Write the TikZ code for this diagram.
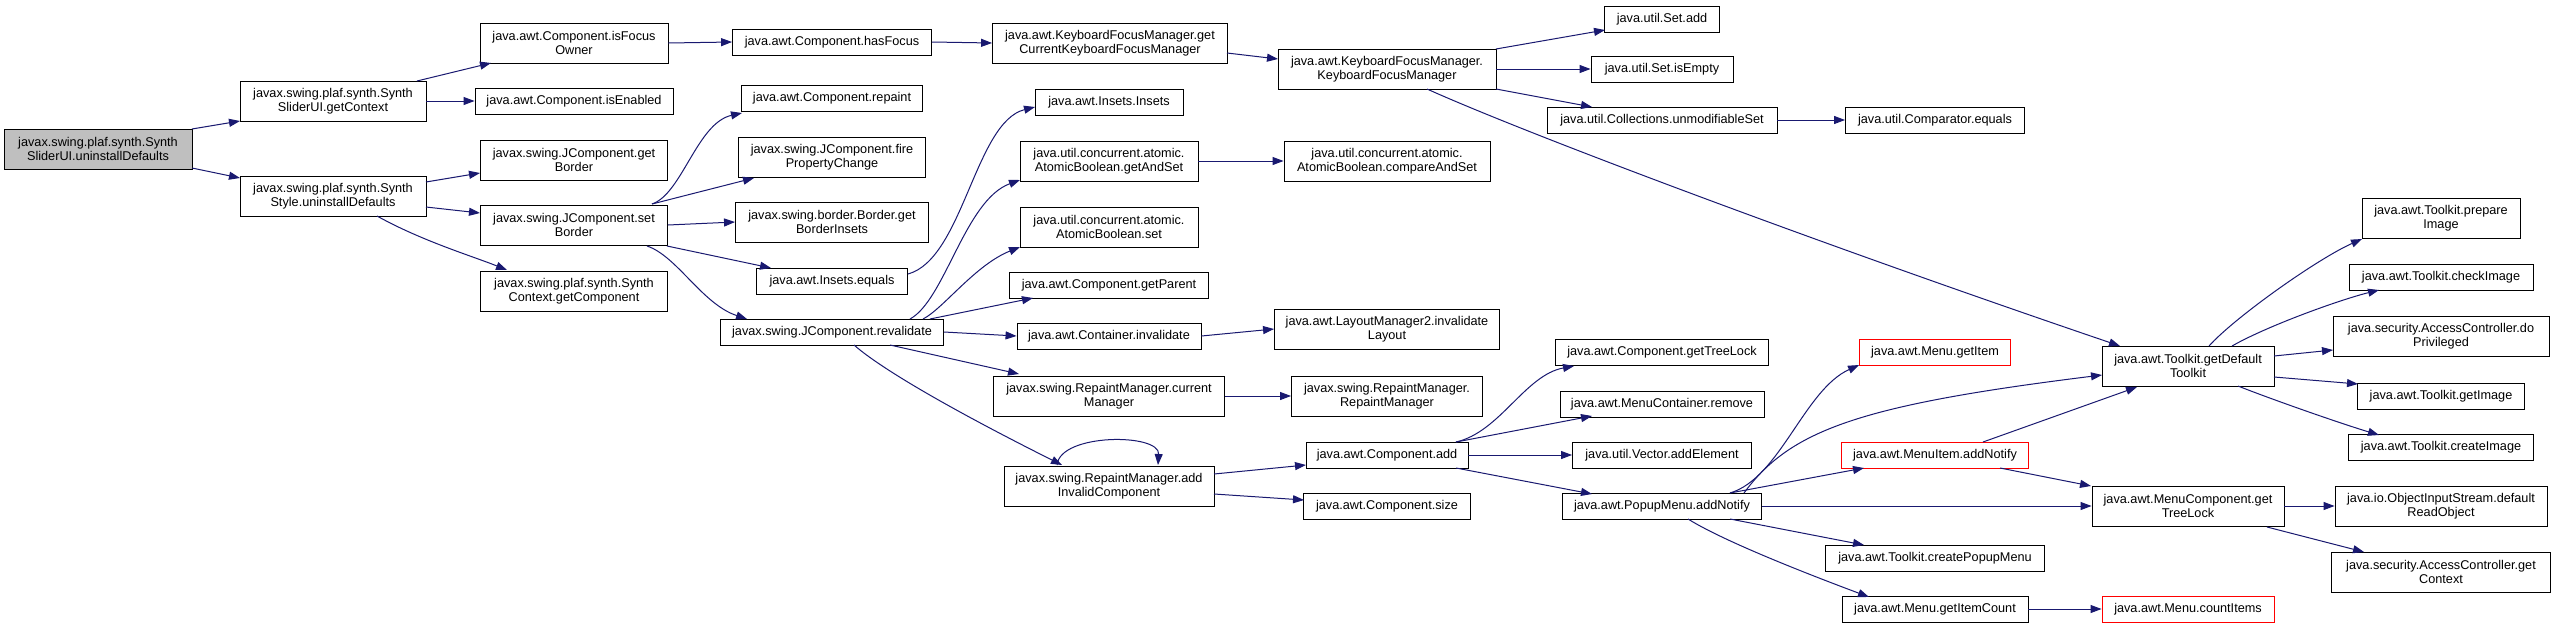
\documentclass[tikz,border=0pt]{standalone}
\usepackage{fontspec}
\setmainfont{Liberation Sans}
\usetikzlibrary{arrows.meta,calc}
\definecolor{edgec}{HTML}{191970}
\definecolor{rootfill}{HTML}{BFBFBF}
\begin{document}
\begin{tikzpicture}[x=1pt,y=-1pt,
 box/.style={draw=black,line width=0.9pt,fill=white,inner sep=0pt,align=center,font=\fontsize{12.7pt}{14pt}\selectfont},
 redbox/.style={box,draw=red},
 e/.style={draw=edgec,line width=1pt,-{Triangle[length=11pt,width=8pt]}}]
\fill[white] (0,0) rectangle (2556,624);
\useasboundingbox (0,0) rectangle (2556,624);
% column 0
\node[box,fill=rootfill,minimum width=188pt,minimum height=40pt] (root) at (98,149) {javax.swing.plaf.synth.Synth\\SliderUI.uninstallDefaults};
% column 1
\node[box,minimum width=186pt,minimum height=40pt] (gc) at (333,101) {javax.swing.plaf.synth.Synth\\SliderUI.getContext};
\node[box,minimum width=186pt,minimum height=40pt] (sud) at (333,196) {javax.swing.plaf.synth.Synth\\Style.uninstallDefaults};
% column 2
\node[box,minimum width=188pt,minimum height=40pt] (ifo) at (574,43) {java.awt.Component.isFocus\\Owner};
\node[box,minimum width=198pt,minimum height=26pt] (ien) at (574,101) {java.awt.Component.isEnabled};
\node[box,minimum width=187pt,minimum height=40pt] (gb) at (574,160) {javax.swing.JComponent.get\\Border};
\node[box,minimum width=187pt,minimum height=40pt] (sb) at (574,225) {javax.swing.JComponent.set\\Border};
\node[box,minimum width=187pt,minimum height=40pt] (cgc) at (574,291) {javax.swing.plaf.synth.Synth\\Context.getComponent};
% column 3
\node[box,minimum width=199pt,minimum height=26pt] (hf) at (832,42) {java.awt.Component.hasFocus};
\node[box,minimum width=181pt,minimum height=26pt] (rp) at (832,98) {java.awt.Component.repaint};
\node[box,minimum width=187pt,minimum height=40pt] (fpc) at (832,157) {javax.swing.JComponent.fire\\PropertyChange};
\node[box,minimum width=193pt,minimum height=40pt] (gbi) at (832,222) {javax.swing.border.Border.get\\BorderInsets};
\node[box,minimum width=151pt,minimum height=26pt] (ieq) at (832,281) {java.awt.Insets.equals};
\node[box,minimum width=223pt,minimum height=26pt] (rv) at (832,332) {javax.swing.JComponent.revalidate};
% column 4
\node[box,minimum width=235pt,minimum height=40pt] (gckfm) at (1110,43) {java.awt.KeyboardFocusManager.get\\CurrentKeyboardFocusManager};
\node[box,minimum width=148pt,minimum height=26pt] (ii) at (1109,102) {java.awt.Insets.Insets};
\node[box,minimum width=178pt,minimum height=40pt] (gas) at (1109,161) {java.util.concurrent.atomic.\\AtomicBoolean.getAndSet};
\node[box,minimum width=178pt,minimum height=40pt] (abs) at (1109,227) {java.util.concurrent.atomic.\\AtomicBoolean.set};
\node[box,minimum width=199pt,minimum height=26pt] (gp) at (1109,285) {java.awt.Component.getParent};
\node[box,minimum width=184pt,minimum height=26pt] (ci) at (1109,336) {java.awt.Container.invalidate};
\node[box,minimum width=231pt,minimum height=40pt] (cm) at (1109,396) {javax.swing.RepaintManager.current\\Manager};
\node[box,minimum width=210pt,minimum height=40pt] (aic) at (1109,486) {javax.swing.RepaintManager.add\\InvalidComponent};
% column 5
\node[box,minimum width=218pt,minimum height=40pt] (kfm) at (1387,69) {java.awt.KeyboardFocusManager.\\KeyboardFocusManager};
\node[box,minimum width=206pt,minimum height=40pt] (cas) at (1387,161) {java.util.concurrent.atomic.\\AtomicBoolean.compareAndSet};
\node[box,minimum width=225pt,minimum height=40pt] (lm) at (1387,329) {java.awt.LayoutManager2.invalidate\\Layout};
\node[box,minimum width=191pt,minimum height=40pt] (rmrm) at (1387,396) {javax.swing.RepaintManager.\\RepaintManager};
\node[box,minimum width=162pt,minimum height=26pt] (cadd) at (1387,455) {java.awt.Component.add};
\node[box,minimum width=167pt,minimum height=26pt] (csz) at (1387,506) {java.awt.Component.size};
% column 6
\node[box,minimum width=115pt,minimum height=26pt] (sadd) at (1662,19) {java.util.Set.add};
\node[box,minimum width=142pt,minimum height=26pt] (sie) at (1662,69) {java.util.Set.isEmpty};
\node[box,minimum width=230pt,minimum height=26pt] (ums) at (1662,120) {java.util.Collections.unmodifiableSet};
\node[box,minimum width=213pt,minimum height=26pt] (gtl) at (1662,352) {java.awt.Component.getTreeLock};
\node[box,minimum width=204pt,minimum height=26pt] (mcr) at (1662,404) {java.awt.MenuContainer.remove};
\node[box,minimum width=179pt,minimum height=26pt] (vae) at (1662,455) {java.util.Vector.addElement};
\node[box,minimum width=199pt,minimum height=26pt] (pan) at (1662,506) {java.awt.PopupMenu.addNotify};
% column 7
\node[box,minimum width=179pt,minimum height=26pt] (ceq) at (1935,120) {java.util.Comparator.equals};
\node[redbox,minimum width=151pt,minimum height=26pt] (mgi) at (1935,352) {java.awt.Menu.getItem};
\node[redbox,minimum width=187pt,minimum height=26pt] (man) at (1935,455) {java.awt.MenuItem.addNotify};
\node[box,minimum width=219pt,minimum height=26pt] (cpm) at (1935,558) {java.awt.Toolkit.createPopupMenu};
\node[box,minimum width=186pt,minimum height=26pt] (gic) at (1935,609) {java.awt.Menu.getItemCount};
% column 8
\node[box,minimum width=172pt,minimum height=40pt] (gdt) at (2188,366) {java.awt.Toolkit.getDefault\\Toolkit};
\node[box,minimum width=192pt,minimum height=40pt] (mcgtl) at (2188,506) {java.awt.MenuComponent.get\\TreeLock};
\node[redbox,minimum width=172pt,minimum height=26pt] (cit) at (2188,609) {java.awt.Menu.countItems};
% column 9
\node[box,minimum width=158pt,minimum height=40pt] (pi) at (2441,218) {java.awt.Toolkit.prepare\\Image};
\node[box,minimum width=184pt,minimum height=26pt] (cki) at (2441,277) {java.awt.Toolkit.checkImage};
\node[box,minimum width=216pt,minimum height=40pt] (dp) at (2441,336) {java.security.AccessController.do\\Privileged};
\node[box,minimum width=167pt,minimum height=26pt] (gi) at (2441,396) {java.awt.Toolkit.getImage};
\node[box,minimum width=185pt,minimum height=26pt] (cri) at (2441,447) {java.awt.Toolkit.createImage};
\node[box,minimum width=212pt,minimum height=40pt] (dro) at (2441,506) {java.io.ObjectInputStream.default\\ReadObject};
\node[box,minimum width=219pt,minimum height=40pt] (acgc) at (2441,572) {java.security.AccessController.get\\Context};
% edges
\draw[e] ($(root)+(94,-20)$) -- ($(gc)+(-93,20)$);
\draw[e] ($(root)+(94,19)$) -- ($(sud)+(-93,-18)$);
\draw[e] ($(gc)+(84,-20)$) -- ($(ifo)+(-83,20)$);
\draw[e] (gc.east) -- (ien.west);
\draw[e] ($(sud)+(93,-14)$) -- ($(gb)+(-94,13)$);
\draw[e] ($(sud)+(93,11)$) -- ($(sb)+(-94,-12)$);
\draw[e] ($(sud)+(44,20)$) .. controls +(45,25) and +(-35,-14) .. ($(cgc)+(-67,-21)$);
\draw[e] (ifo.east) -- (hf.west);
\draw[e] (hf.east) -- (gckfm.west);
\draw[e] ($(gckfm)+(117,10)$) -- ($(kfm)+(-109,-10)$);
\draw[e] ($(kfm)+(109,-20)$) -- ($(sadd)+(-57,11)$);
\draw[e] (kfm.east) -- (sie.west);
\draw[e] ($(kfm)+(109,20)$) -- ($(ums)+(-70,-13)$);
\draw[e] (ums.east) -- (ceq.west);
\draw[e] ($(kfm)+(40,20)$) .. controls +(100,45) and +(-300,-102) .. ($(gdt)+(-68,-20)$);
\draw[e] ($(sb)+(78,-21)$) .. controls +(30,-10) and +(-45,10) .. ($(rp)+(-90,15)$);
\draw[e] ($(sb)+(78,-21)$) -- ($(fpc)+(-78,21)$);
\draw[e] (sb.east) -- (gbi.west);
\draw[e] ($(sb)+(93,21)$) -- ($(ieq)+(-61,-13)$);
\draw[e] ($(sb)+(73,21)$) .. controls +(30,10) and +(-45,-15) .. ($(rv)+(-85,-13)$);
\draw[e] ($(ieq)+(76,-7)$) .. controls +(55,-15) and +(-60,15) .. ($(ii)+(-74,5)$);
\draw[e] ($(rv)+(78,-13)$) .. controls +(35,-19) and +(-55,20) .. ($(gas)+(-89,19)$);
\draw[e] ($(rv)+(91,-13)$) .. controls +(20,-10) and +(-45,18) .. ($(abs)+(-89,20)$);
\draw[e] ($(rv)+(98,-13)$) -- ($(gp)+(-76,13)$);
\draw[e] (rv.east) -- (ci.west);
\draw[e] ($(rv)+(58,13)$) -- ($(cm)+(-90,-22)$);
\draw[e] ($(rv)+(22,13)$) .. controls +(40,35) and +(-50,-25) .. ($(aic)+(-47,-21)$);
\draw[e] (gas.east) -- (cas.west);
\draw[e] (ci.east) -- (lm.west);
\draw[e] (cm.east) -- (rmrm.west);
\draw[e] ($(aic)+(-52,-21)$) .. controls +(3,-32) and +(2,-32) .. ($(aic)+(49,-21)$);
\draw[e] ($(aic)+(105,-12)$) -- ($(cadd)+(-81,10)$);
\draw[e] ($(aic)+(105,8)$) -- ($(csz)+(-83,-6)$);
\draw[e] ($(cadd)+(69,-13)$) .. controls +(44,-10) and +(-49,9) .. ($(gtl)+(-88,14)$);
\draw[e] ($(cadd)+(69,-13)$) -- ($(mcr)+(-70,12)$);
\draw[e] (cadd.east) -- (vae.west);
\draw[e] ($(cadd)+(69,13)$) -- ($(pan)+(-70,-12)$);
\draw[e] ($(pan)+(68,-13)$) .. controls +(50,-15) and +(-55,25) .. ($(mgi)+(-76,13)$);
\draw[e] ($(pan)+(82,-13)$) .. controls +(46,-63) and +(-242,30) .. ($(gdt)+(-86,9)$);
\draw[e] ($(pan)+(68,-13)$) -- ($(man)+(-71,13)$);
\draw[e] (pan.east) -- (mcgtl.west);
\draw[e] ($(pan)+(68,13)$) -- ($(cpm)+(-71,-13)$);
\draw[e] ($(pan)+(26,13)$) .. controls +(40,25) and +(-40,-15) .. ($(gic)+(-66,-12)$);
\draw[e] (gic.east) -- (cit.west);
\draw[e] ($(man)+(48,-13)$) -- ($(gdt)+(-51,21)$);
\draw[e] ($(man)+(65,13)$) -- ($(mcgtl)+(-97,-20)$);
\draw[e] ($(gdt)+(21,-20)$) .. controls +(25,-28) and +(-45,20) .. ($(pi)+(-79,21)$);
\draw[e] ($(gdt)+(44,-20)$) .. controls +(35,-20) and +(-40,10) .. ($(cki)+(-62,13)$);
\draw[e] ($(gdt)+(86,-10)$) -- ($(dp)+(-108,14)$);
\draw[e] ($(gdt)+(86,11)$) -- ($(gi)+(-83,-12)$);
\draw[e] ($(gdt)+(50,20)$) .. controls +(30,12) and +(-40,-12) .. ($(cri)+(-62,-12)$);
\draw[e] (mcgtl.east) -- (dro.west);
\draw[e] ($(mcgtl)+(79,21)$) -- ($(acgc)+(-77,-20)$);
\end{tikzpicture}
\end{document}
